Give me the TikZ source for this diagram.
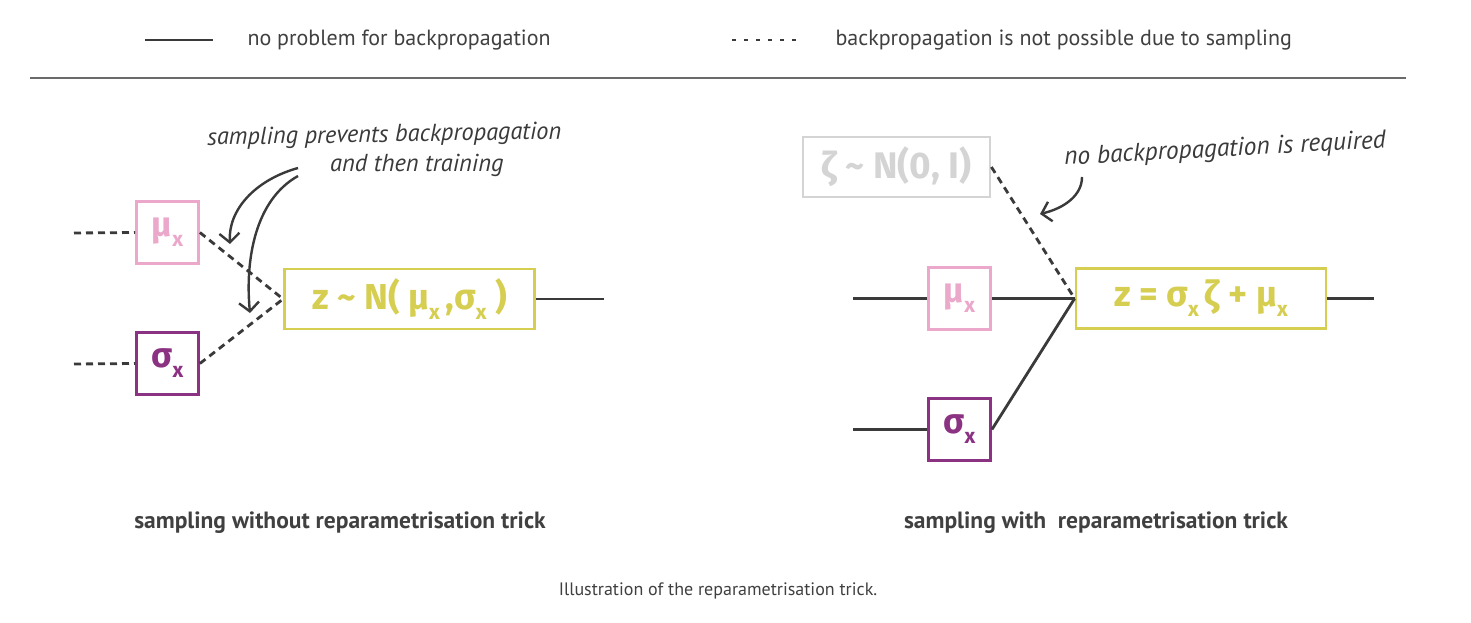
\documentclass[tikz,border=0pt]{standalone}
\usepackage{fontspec}
\setmainfont{PT Sans}
\newfontfamily\boxfont{Fira Sans}
\usetikzlibrary{arrows.meta}
\definecolor{ink}{HTML}{3A3A3A}
\definecolor{txt}{HTML}{404040}
\definecolor{pinkc}{HTML}{EBA8CA}
\definecolor{purplec}{HTML}{8C3282}
\definecolor{yellowc}{HTML}{D6CE50}
\definecolor{grayc}{HTML}{D4D4D4}
\definecolor{rulec}{HTML}{6A6A6A}
\newcommand{\subx}[1][21]{\raisebox{-10pt}{\fontsize{#1}{#1}\selectfont x}}
\begin{document}
\begin{tikzpicture}[x=1pt,y=-1pt,
  box/.style={draw, line width=2.8pt, inner sep=0pt, minimum width=62pt, minimum height=62pt,
    font=\boxfont\bfseries\fontsize{35}{35}\selectfont},
  zbox/.style={box, minimum width=250pt, minimum height=60pt, font=\boxfont\bfseries\fontsize{36}{36}\selectfont},
  conn/.style={draw=ink, line width=2.8pt},
  dconn/.style={conn, dash pattern=on 7pt off 5pt},
  legtext/.style={anchor=west, text=txt, font=\fontsize{22}{22}\selectfont},
  capt/.style={text=txt, font=\bfseries\fontsize{23.5}{23.5}\selectfont},
  note/.style={text=ink, inner sep=0pt, font=\itshape\fontsize{24.5}{24.5}\selectfont},
  arr/.style={draw=ink, line width=2.4pt, -{Straight Barb[length=9pt,width=20pt,line width=2.4pt]}}
]
\useasboundingbox (0,0) rectangle (1471,623);
\fill[white] (0,0) rectangle (1471,623);

% legend
\coordinate (ls1) at (145,40); \coordinate (ls2) at (213,40);
\draw[conn] (ls1) -- (ls2);
\node[legtext] (lt1) at (244,40) {no problem for backpropagation};
\coordinate (ld1) at (732,40); \coordinate (ld2) at (803,40);
\draw[conn, line width=2.4pt, dash pattern=on 4pt off 8pt] (ld1) -- (ld2);
\node[legtext] (lt2) at (832,40) {backpropagation is not possible due to sampling};
\coordinate (r1) at (30,78); \coordinate (r2) at (1406,78);
\draw[draw=rulec, line width=1.6pt] (r1) -- (r2);

% left diagram
\node[box, draw=pinkc, text=pinkc] (lmu) at (167.5,232.5) {μ\subx};
\node[box, draw=purplec, text=purplec] (lsig) at (167.5,363.5) {σ\subx};
\node[zbox, draw=yellowc, text=yellowc] (lz) at (409.5,299) {z {\textasciitilde} N( μ\subx\,,σ\subx\ )};
\coordinate (lin1) at (74,233); \coordinate (lin2) at (74,364); \coordinate (lout) at (604,299);
\draw[dconn] (lin1) -- (lmu.west);
\draw[dconn] (lin2) -- (lsig.west);
\draw[dconn] (lmu.east) -- (lz.west);
\draw[dconn] (lsig.east) -- (lz.west);
\draw[conn] (lz.east) -- (lout);

\node[note, anchor=west, rotate=1] (n1) at (207,139) {sampling prevents backpropagation};
\node[note, anchor=west] (n2) at (330,165) {and then training};
\coordinate (a1s) at (298,168); \coordinate (a1e) at (230,244);
\coordinate (a2s) at (298,176); \coordinate (a2e) at (250,313);
\draw[arr] (a1s) .. controls (255,180) and (228,210) .. (a1e);
\draw[arr] (a2s) .. controls (255,200) and (245,260) .. (a2e);

\node[capt] (c1) at (340,523) {sampling without reparametrisation trick};

% right diagram
\node[box, minimum width=187pt, minimum height=60pt, draw=grayc, text=grayc,
  font=\boxfont\bfseries\fontsize{37}{37}\selectfont] (rzeta) at (896.5,167) {ζ {\textasciitilde} N(0, I)};
\node[box, draw=pinkc, text=pinkc] (rmu) at (959.5,298.5) {μ\subx};
\node[box, draw=purplec, text=purplec] (rsig) at (959.5,429.5) {σ\subx};
\node[zbox, draw=yellowc, text=yellowc] (rz) at (1201,298.5) {z = σ\subx\,ζ + μ\subx};
\coordinate (rin1) at (853,298.5); \coordinate (rin2) at (853,429.5); \coordinate (rout) at (1374,298.5);
\draw[conn] (rin1) -- (rmu.west);
\draw[conn] (rin2) -- (rsig.west);
\draw[conn] (rmu.east) -- (rz.west);
\draw[conn] (rsig.east) -- (rz.west);
\draw[conn] (rz.east) -- (rout);
\draw[dconn] (rzeta.east) -- (rz.west);

\node[note, rotate=3, font=\itshape\fontsize{25.5}{25.5}\selectfont] (n3) at (1225,150) {no backpropagation is required};
\coordinate (a3s) at (1082,177); \coordinate (a3e) at (1040,214);
\draw[arr] (a3s) .. controls (1082,195) and (1065,208) .. (a3e);

\node[capt] (c2) at (1096,523) {sampling with\ \ reparametrisation trick};

\node[text=txt, font=\fontsize{18}{18}\selectfont] (c3) at (718,591) {Illustration of the reparametrisation trick.};
\end{tikzpicture}
\end{document}
